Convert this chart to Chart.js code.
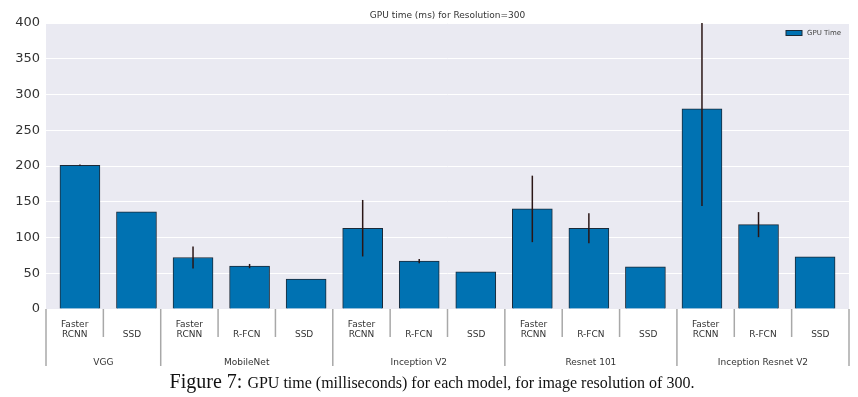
<!DOCTYPE html>
<html>
<head>
<meta charset="utf-8">
<script src="https://cdn.jsdelivr.net/npm/chart.js"></script>
<style>
  html, body { margin: 0; padding: 0; background: #fff; }
  #wrap { width: 858px; height: 397px; }
</style>
</head>
<body>
<div id="wrap"><canvas id="myChart" width="858" height="397"></canvas></div>
<script>
// feature extractor (group) for each bar, and meta architecture
const groups = ['VGG', 'MobileNet', 'Inception V2', 'Resnet 101', 'Inception Resnet V2'];
const groupSizes = [2, 3, 3, 3, 3];
const models = ['Faster RCNN', 'SSD',
                'Faster RCNN', 'R-FCN', 'SSD',
                'Faster RCNN', 'R-FCN', 'SSD',
                'Faster RCNN', 'R-FCN', 'SSD',
                'Faster RCNN', 'R-FCN', 'SSD'];
// GPU time (ms) and std dev
const gpuTime = [201, 136, 72, 60, 42, 113, 67, 52, 140, 113, 59, 280, 118, 73];
const gpuErr  = [1, 0, 15.5, 3, 0, 39.5, 3, 0, 46.5, 21, 0, 136, 17.5, 0];
const yTicks = [0, 50, 100, 150, 200, 250, 300, 350, 400];

const chartTitle = 'GPU time (ms) for Resolution=300';
const legendLabel = 'GPU Time';
const captionHead = 'Figure 7:';
const captionText = 'GPU time (milliseconds) for each model, for image resolution of 300.';

const barBlue = '#0072b2';
const sans = "'DejaVu Sans', sans-serif";

const bgPlugin = {
    id: 'plotBg',
    beforeDraw(chart) {
        const { ctx, chartArea: a } = chart;
        ctx.save();
        ctx.fillStyle = '#eaeaf2';
        ctx.fillRect(a.left, a.top, a.right - a.left, a.bottom - a.top);
        ctx.restore();
    }
};

const extrasPlugin = {
    id: 'extras',
    afterDatasetsDraw(chart) {
        // error bars
        const { ctx, chartArea: a } = chart;
        const y = chart.scales.y;
        const bars = chart.getDatasetMeta(0).data;
        ctx.save();
        ctx.beginPath();
        ctx.rect(a.left, a.top, a.right - a.left, a.bottom - a.top);
        ctx.clip();
        ctx.strokeStyle = '#2a1616';
        ctx.lineWidth = 1.5;
        bars.forEach((b, i) => {
            if (!gpuErr[i]) return;
            ctx.beginPath();
            ctx.moveTo(b.x, y.getPixelForValue(gpuTime[i] - gpuErr[i]));
            ctx.lineTo(b.x, y.getPixelForValue(gpuTime[i] + gpuErr[i]));
            ctx.stroke();
        });
        ctx.restore();
    },
    afterDraw(chart) {
        const { ctx, chartArea: a } = chart;
        const n = models.length;
        const step = (a.right - a.left) / n;
        ctx.save();

        // title
        ctx.fillStyle = '#333';
        ctx.font = '9px ' + sans;
        ctx.textAlign = 'center';
        ctx.textBaseline = 'middle';
        ctx.fillText(chartTitle, (a.left + a.right) / 2, 16);

        // legend
        ctx.fillStyle = barBlue;
        ctx.fillRect(a.right - 63, 30.5, 16, 5);
        ctx.strokeStyle = '#1b2a38';
        ctx.lineWidth = 1;
        ctx.strokeRect(a.right - 63, 30.5, 16, 5);
        ctx.fillStyle = '#444';
        ctx.font = '7px ' + sans;
        ctx.textAlign = 'left';
        ctx.fillText(legendLabel, a.right - 42, 33);

        // separators
        const groupEdges = [0];
        groupSizes.forEach(s => groupEdges.push(groupEdges[groupEdges.length - 1] + s));
        ctx.strokeStyle = '#a8a8a8';
        ctx.lineWidth = 1.5;
        for (let k = 0; k <= n; k++) {
            const x = a.left + k * step;
            ctx.beginPath();
            ctx.moveTo(x, a.bottom);
            ctx.lineTo(x, groupEdges.includes(k) ? a.bottom + 57 : a.bottom + 28);
            ctx.stroke();
        }

        // model labels
        ctx.fillStyle = '#333';
        ctx.font = '9px ' + sans;
        ctx.textAlign = 'center';
        models.forEach((m, i) => {
            const x = a.left + (i + 0.5) * step;
            const parts = m.split(' ');
            if (parts.length > 1) {
                ctx.fillText(parts[0], x, a.bottom + 16);
                ctx.fillText(parts[1], x, a.bottom + 26);
            } else {
                ctx.fillText(m, x, a.bottom + 26);
            }
        });

        // group labels
        groups.forEach((g, j) => {
            const x = a.left + (groupEdges[j] + groupEdges[j + 1]) / 2 * step;
            ctx.fillText(g, x, a.bottom + 54);
        });

        // caption
        ctx.fillStyle = '#111';
        ctx.textBaseline = 'alphabetic';
        ctx.font = "20px 'Liberation Serif', serif";
        const w1 = ctx.measureText(captionHead + ' ').width;
        ctx.font = "16px 'Liberation Serif', serif";
        const w2 = ctx.measureText(captionText).width;
        const x0 = 432 - (w1 + w2) / 2;
        ctx.textAlign = 'left';
        ctx.font = "20px 'Liberation Serif', serif";
        ctx.fillText(captionHead, x0, 388);
        ctx.font = "16px 'Liberation Serif', serif";
        ctx.fillText(captionText, x0 + w1, 388);

        ctx.restore();
    }
};

const ctx = document.getElementById('myChart').getContext('2d');
new Chart(ctx, {
    type: 'bar',
    data: {
        datasets: [{
            label: legendLabel,
            data: gpuTime.map((v, i) => ({ x: i, y: v })),
            backgroundColor: barBlue,
            borderColor: '#1b2a38',
            borderWidth: 1,
            barThickness: 40
        }]
    },
    options: {
        responsive: false,
        animation: false,
        layout: { padding: { left: 0, top: 23, right: 9, bottom: 88 } },
        plugins: { legend: { display: false }, title: { display: false }, tooltip: { enabled: false } },
        scales: {
            x: {
                type: 'linear',
                offset: false,
                min: -0.6,
                max: models.length - 1 + 0.6,
                display: false
            },
            y: {
                min: 0,
                max: 400,
                afterBuildTicks(scale) { scale.ticks = yTicks.map(v => ({ value: v })); },
                afterFit(scale) { scale.width = 46; },
                border: { display: false },
                grid: { color: '#ffffff', lineWidth: 1, drawTicks: false },
                ticks: { color: '#333', padding: 6, font: { family: 'DejaVu Sans', size: 13 } }
            }
        }
    },
    plugins: [bgPlugin, extrasPlugin]
});
</script>
</body>
</html>
